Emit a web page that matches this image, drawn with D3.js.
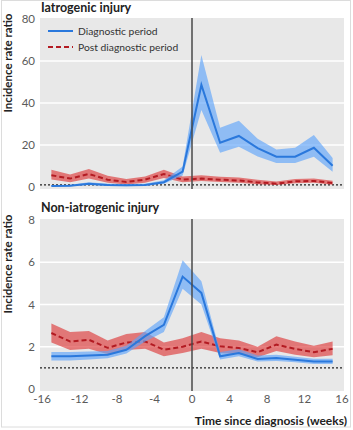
<!DOCTYPE html>
<html>
<head>
<meta charset="utf-8">
<script src="https://cdn.jsdelivr.net/npm/d3@7"></script>
<style>
  html, body { margin: 0; padding: 0; background: #fff; }
  svg { display: block; font-family: Lato, "Open Sans", sans-serif; }
</style>
</head>
<body>
<svg id="chart" width="353" height="430"></svg>
<script>
// weeks since diagnosis (two-week bins)
const weeks = [-15, -13, -11, -9, -7, -5, -3, -1, 1, 3, 5, 7, 9, 11, 13, 15];

// Iatrogenic injury
const iatroDiag   = [0.5, 0.6, 1.5, 0.9, 0.8, 1.0, 2.3, 7.3, 48.6, 21.1, 24.3, 18.5, 14.4, 14.4, 18.7, 10.1];
const iatroDiagLo = [0.2, 0.3, 0.9, 0.5, 0.4, 0.6, 1.5, 5.5, 36.7, 16.3, 19.2, 14.5, 11.4, 11.4, 14.4, 7.3];
const iatroDiagHi = [1.0, 1.1, 2.3, 1.5, 1.4, 1.6, 3.2, 9.8, 62.8, 28.2, 31.6, 23.0, 17.9, 18.7, 24.8, 13.8];
const iatroPost   = [5.6, 4.0, 6.2, 3.5, 2.4, 3.5, 6.2, 3.5, 4.0, 3.5, 3.1, 2.2, 1.6, 2.7, 2.9, 1.9];
const iatroPostLo = [3.6, 2.3, 4.0, 2.0, 1.2, 2.0, 4.3, 2.3, 2.8, 2.4, 2.0, 1.3, 0.9, 1.8, 2.0, 1.1];
const iatroPostHi = [8.2, 6.0, 8.6, 5.3, 3.8, 5.0, 8.2, 5.0, 5.6, 4.9, 4.5, 3.4, 2.6, 3.8, 4.0, 3.0];

// Non-iatrogenic injury
const nonDiag   = [1.55, 1.55, 1.58, 1.62, 1.86, 2.5, 3.04, 5.32, 4.55, 1.55, 1.7, 1.42, 1.47, 1.39, 1.3, 1.3];
const nonDiagLo = [1.35, 1.35, 1.4, 1.45, 1.68, 2.25, 2.7, 4.75, 4.0, 1.4, 1.55, 1.3, 1.33, 1.27, 1.18, 1.18];
const nonDiagHi = [1.75, 1.75, 1.78, 1.8, 2.05, 2.75, 3.4, 6.1, 5.1, 1.75, 1.88, 1.58, 1.62, 1.53, 1.43, 1.43];
const nonPost   = [2.65, 2.25, 2.33, 1.95, 2.2, 2.25, 1.86, 2.0, 2.25, 2.02, 1.94, 1.74, 2.1, 1.9, 1.74, 1.9];
const nonPostLo = [2.2, 1.85, 1.9, 1.65, 1.85, 1.9, 1.55, 1.7, 1.9, 1.7, 1.65, 1.5, 1.8, 1.62, 1.5, 1.6];
const nonPostHi = [3.1, 2.7, 2.75, 2.3, 2.6, 2.7, 2.2, 2.4, 2.7, 2.4, 2.3, 2.0, 2.5, 2.25, 2.05, 2.25];

const xTicks = [-16, -12, -8, -4, 0, 4, 8, 12, 16];
const topTicks = [0, 20, 40, 60, 80];
const botTicks = [0, 2, 4, 6, 8];

const blue = '#2a78dc', blueBand = 'rgba(95,165,250,0.65)';
const red = '#b31b22', redBand = 'rgba(222,60,60,0.66)';

const svg = d3.select('#chart');

// outer frame
svg.append('rect')
    .attr('x', 1.5).attr('y', 0.5)
    .attr('width', 349).attr('height', 426.5)
    .attr('fill', '#fff')
    .attr('stroke', '#dcdcdc');

const x = d3.scaleLinear().domain([-16, 16]).range([42, 342]);

function panel(opts) {
    const y = d3.scaleLinear().domain(opts.domain).range(opts.range);
    const g = svg.append('g');
    const top = opts.range[1] - 1, bottom = opts.range[0] + 2;

    g.append('rect')
        .attr('x', 40).attr('y', top)
        .attr('width', 304).attr('height', bottom - top)
        .attr('fill', '#e8e8e8');

    // gridlines
    g.selectAll('.grid')
        .data(opts.ticks.slice(1, -1))
        .join('line')
        .attr('x1', 40).attr('x2', 344)
        .attr('y1', d => y(d)).attr('y2', d => y(d))
        .attr('stroke', '#fff')
        .attr('stroke-width', 1.5);

    // y tick labels
    g.selectAll('.ytick')
        .data(opts.ticks)
        .join('text')
        .attr('x', 35)
        .attr('y', d => y(d))
        .attr('dy', '0.35em')
        .attr('text-anchor', 'end')
        .attr('font-size', 11.5)
        .attr('fill', '#5a5a5a')
        .text(d => d);

    // reference line at IRR = 1
    g.append('line')
        .attr('x1', 40).attr('x2', 344)
        .attr('y1', y(1)).attr('y2', y(1))
        .attr('stroke', '#222')
        .attr('stroke-width', 1.2)
        .attr('stroke-dasharray', '2,2');

    const band = (lo, hi) => d3.area()
        .x((d, i) => x(weeks[i]))
        .y0((d, i) => y(lo[i]))
        .y1((d, i) => y(hi[i]));
    const line = d3.line()
        .x((d, i) => x(weeks[i]))
        .y(d => y(d));

    // post diagnostic period
    g.append('path')
        .datum(opts.post)
        .attr('d', band(opts.postLo, opts.postHi))
        .attr('fill', redBand);
    g.append('path')
        .datum(opts.post)
        .attr('d', line)
        .attr('fill', 'none')
        .attr('stroke', red)
        .attr('stroke-width', 2)
        .attr('stroke-dasharray', '5,3');

    // diagnostic period
    g.append('path')
        .datum(opts.diag)
        .attr('d', band(opts.diagLo, opts.diagHi))
        .attr('fill', blueBand);
    g.append('path')
        .datum(opts.diag)
        .attr('d', line)
        .attr('fill', 'none')
        .attr('stroke', blue)
        .attr('stroke-width', 2);

    // diagnosis marker
    g.append('line')
        .attr('x1', x(0)).attr('x2', x(0))
        .attr('y1', top).attr('y2', bottom)
        .attr('stroke', '#4a4a4a')
        .attr('stroke-width', 1.5);

    // panel title
    g.append('text')
        .attr('x', 41).attr('y', opts.titleY)
        .attr('font-size', 12.5)
        .attr('font-weight', 'bold')
        .attr('fill', '#222')
        .text(opts.title);

    // y axis title
    g.append('text')
        .attr('transform', `translate(12,${opts.labelY}) rotate(-90)`)
        .attr('text-anchor', 'middle')
        .attr('font-size', 11.5)
        .attr('font-weight', 'bold')
        .attr('fill', '#222')
        .text('Incidence rate ratio');

    return y;
}

panel({
    title: 'Iatrogenic injury', titleY: 12, labelY: 63,
    domain: [0, 80], range: [187, 19], ticks: topTicks,
    diag: iatroDiag, diagLo: iatroDiagLo, diagHi: iatroDiagHi,
    post: iatroPost, postLo: iatroPostLo, postHi: iatroPostHi
});

panel({
    title: 'Non-iatrogenic injury', titleY: 212, labelY: 264,
    domain: [0, 8], range: [389, 220], ticks: botTicks,
    diag: nonDiag, diagLo: nonDiagLo, diagHi: nonDiagHi,
    post: nonPost, postLo: nonPostLo, postHi: nonPostHi
});

// x tick labels
svg.append('g')
    .selectAll('text')
    .data(xTicks)
    .join('text')
    .attr('x', d => x(d))
    .attr('y', 403)
    .attr('text-anchor', 'middle')
    .attr('font-size', 11.5)
    .attr('fill', '#5a5a5a')
    .text(d => d);

svg.append('text')
    .attr('x', 347).attr('y', 425)
    .attr('text-anchor', 'end')
    .attr('font-size', 12)
    .attr('font-weight', 'bold')
    .attr('fill', '#222')
    .text('Time since diagnosis (weeks)');

// legend
const legend = svg.append('g');
const legendItems = [
    { label: 'Diagnostic period', color: blue, dash: null, y: 31 },
    { label: 'Post diagnostic period', color: red, dash: '5,3', y: 47 }
];
legendItems.forEach(d => {
    legend.append('line')
        .attr('x1', 48).attr('x2', 73)
        .attr('y1', d.y).attr('y2', d.y)
        .attr('stroke', d.color)
        .attr('stroke-width', 2)
        .attr('stroke-dasharray', d.dash);
    legend.append('text')
        .attr('x', 78).attr('y', d.y)
        .attr('dy', '0.35em')
        .attr('font-size', 10.3)
        .attr('fill', '#333')
        .text(d.label);
});
</script>
</body>
</html>
